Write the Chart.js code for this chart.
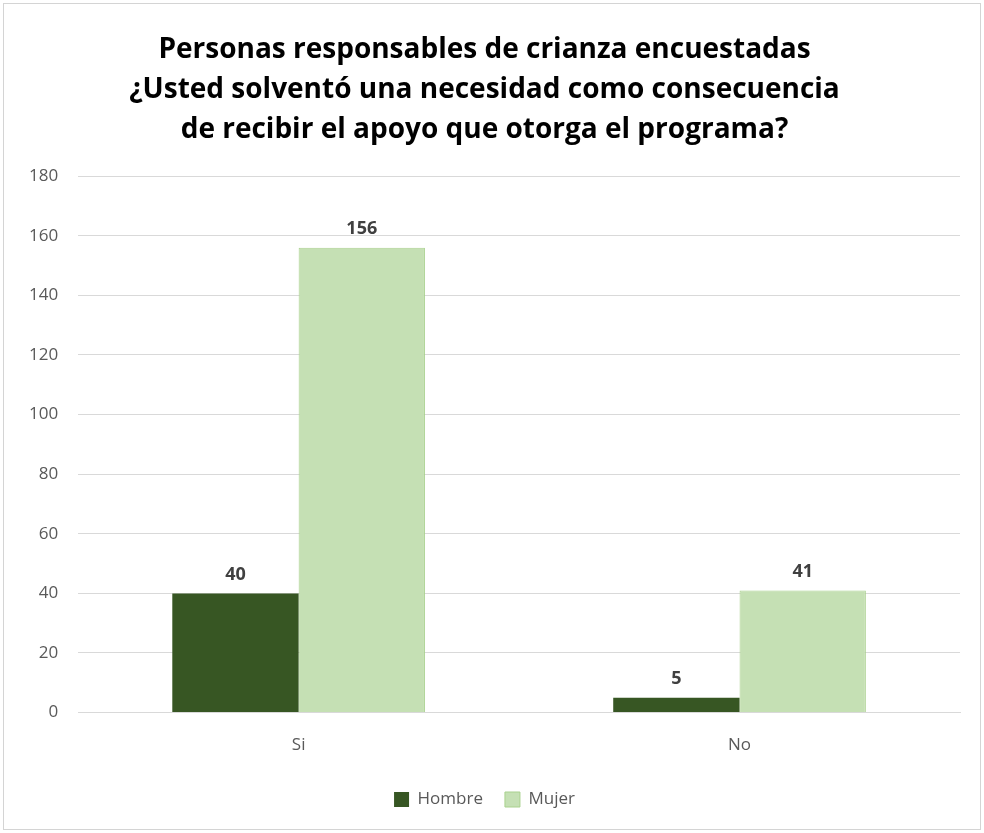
<!DOCTYPE html>
<html>
<head>
<meta charset="utf-8">
<script src="https://cdn.jsdelivr.net/npm/chart.js@4"></script>
<style>
  html, body { margin: 0; padding: 0; background: #fff; }
  #frame {
    position: absolute; left: 3px; top: 3px;
    width: 976px; height: 825px;
    border: 1px solid #d4d4d4; background: #fff;
  }
</style>
</head>
<body>
<div id="frame"><canvas id="crianza"></canvas></div>
<script>
const categories = ['Si', 'No'];
const hombre = [40, 5];
const mujer = [156, 41];
const yTicks = [0, 20, 40, 60, 80, 100, 120, 140, 160, 180];

const FONT = "'Open Sans', 'Liberation Sans', sans-serif";

// writes the value above each bar
const barValues = {
  id: 'barValues',
  afterDatasetsDraw(chart) {
    const ctx = chart.ctx;
    ctx.save();
    ctx.font = 'bold 18px ' + FONT;
    ctx.fillStyle = '#404040';
    ctx.textAlign = 'center';
    ctx.textBaseline = 'bottom';
    chart.data.datasets.forEach((ds, i) => {
      chart.getDatasetMeta(i).data.forEach((bar, j) => {
        ctx.fillText(ds.data[j], bar.x, bar.y - 10);
      });
    });
    ctx.restore();
  }
};

const ctx = document.getElementById('crianza');

new Chart(ctx, {
  type: 'bar',
  data: {
    labels: categories,
    datasets: [
      {
        label: 'Hombre',
        data: hombre,
        backgroundColor: '#375623',
        borderWidth: 0,
      },
      {
        label: 'Mujer',
        data: mujer,
        backgroundColor: '#c5e0b4',
        borderColor: '#a9d18e',
        borderWidth: 1,
      }
    ]
  },
  options: {
    responsive: true,
    maintainAspectRatio: false,
    animation: false,
    layout: {
      padding: { left: 5, right: 20, top: 26, bottom: 11 }
    },
    datasets: {
      bar: { categoryPercentage: 0.573, barPercentage: 1.0 }
    },
    plugins: {
      title: {
        display: true,
        text: [
          'Personas responsables de crianza encuestadas',
          '¿Usted solventó una necesidad como consecuencia',
          'de recibir el apoyo que otorga el programa?'
        ],
        color: '#000',
        font: { family: FONT, size: 28, weight: 'bold', lineHeight: 1.43 },
        padding: { top: 0, bottom: 26 }
      },
      legend: {
        position: 'bottom',
        labels: {
          color: '#595959',
          font: { family: FONT, size: 17 },
          boxWidth: 15,
          boxHeight: 15,
          padding: 22
        }
      },
      tooltip: { enabled: false }
    },
    scales: {
      x: {
        grid: { display: false },
        border: { color: '#d9d9d9' },
        ticks: {
          color: '#595959',
          font: { family: FONT, size: 17 },
          padding: 14
        }
      },
      y: {
        min: 0,
        max: 180,
        afterBuildTicks(axis) {
          axis.ticks = yTicks.map(v => ({ value: v }));
        },
        grid: { color: '#d9d9d9', drawTicks: false },
        border: { display: false },
        ticks: {
          color: '#595959',
          font: { family: FONT, size: 17 },
          padding: 20
        }
      }
    }
  },
  plugins: [barValues]
});
</script>
</body>
</html>
